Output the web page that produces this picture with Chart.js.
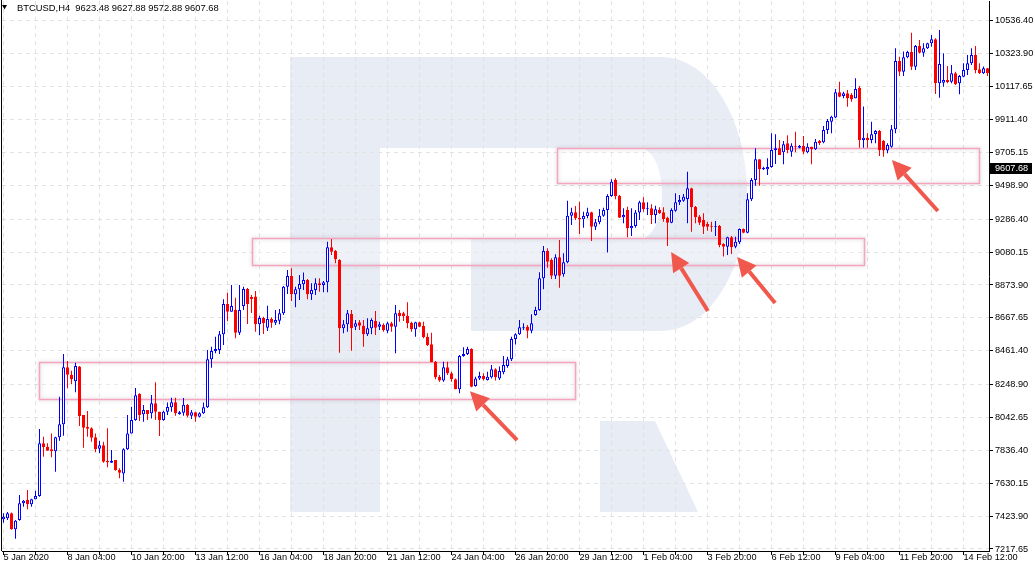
<!DOCTYPE html>
<html lang="en">
<head>
    <meta charset="UTF-8">
    <title>BTCUSD H4</title>
    <script src="https://cdn.jsdelivr.net/npm/chart.js"></script>
    <style>
        html, body {
            margin: 0;
            padding: 0;
            background: #fff;
        }
        canvas {
            display: block;
        }
    </style>
</head>
<body>

<canvas id="btcChart" width="1035" height="572"></canvas>

<script>
    // time axis labels, one every 16 bars (H4)
    const dateLabels = ['5 Jan 2020', '8 Jan 04:00', '10 Jan 20:00', '13 Jan 12:00', '16 Jan 04:00',
        '18 Jan 20:00', '21 Jan 12:00', '24 Jan 04:00', '26 Jan 20:00', '29 Jan 12:00', '1 Feb 04:00',
        '3 Feb 20:00', '6 Feb 12:00', '9 Feb 04:00', '11 Feb 20:00', '14 Feb 12:00'];

    const priceTicks = [7217.65, 7423.90, 7630.15, 7836.40, 8042.65, 8248.90, 8461.40, 8667.65,
        8873.90, 9080.15, 9286.40, 9498.90, 9705.15, 9911.40, 10117.65, 10323.90, 10536.40];

    const opens = [7404,7410,7442,7341,7400,7504,7525,7498,7530,7550,
        7881,7859,7843,7831,7918,8000,8358,8311,8270,8362,
        8058,7985,7975,7918,7847,7868,7772,7759,7776,7713,
        7692,7843,7943,8027,8190,8063,8090,8069,8132,8079,
        8027,8079,8107,8138,8065,8073,8121,8054,8075,8048,
        8069,8107,8408,8460,8466,8565,8755,8706,8717,8575,
        8742,8849,8799,8801,8627,8667,8606,8661,8637,8650,
        8696,8863,8930,8816,8847,8878,8905,8816,8843,8885,
        8874,8891,9110,9089,9031,8602,8627,8692,8612,8640,
        8619,8565,8602,8648,8612,8623,8587,8634,8612,8700,
        8696,8681,8637,8596,8640,8617,8550,8502,8393,8299,
        8274,8358,8320,8282,8220,8429,8441,8472,8240,8288,
        8303,8278,8295,8345,8288,8326,8366,8408,8535,8565,
        8602,8612,8587,8686,8717,8916,9087,9031,8932,9048,
        8941,9016,9309,9330,9296,9286,9307,9330,9240,9267,
        9309,9344,9432,9533,9434,9299,9344,9230,9244,9328,
        9393,9349,9355,9313,9344,9330,9296,9265,9340,9393,
        9403,9413,9481,9365,9303,9282,9257,9244,9240,9244,
        9131,9114,9173,9114,9142,9225,9202,9412,9533,9663,
        9600,9600,9614,9721,9732,9707,9763,9710,9748,9735,
        9746,9707,9742,9725,9777,9769,9846,9898,9924,10083,
        10060,10077,10066,10045,10112,9784,9798,9784,9821,9840,
        9777,9717,9742,9851,10279,10212,10302,10336,10243,10373,
        10331,10359,10390,10415,10139,10143,10160,10149,10202,10139,
        10181,10223,10265,10317,10227,10202,10233];

    const highs = [7442,7450,7446,7400,7556,7525,7588,7533,7583,7971,
        7922,7881,7943,7922,8173,8441,8397,8336,8386,8366,
        8058,8083,7981,7943,7897,7891,7975,7839,7776,7724,
        7849,8058,8110,8228,8194,8121,8090,8184,8264,8079,
        8085,8136,8167,8167,8083,8165,8127,8090,8079,8075,
        8136,8466,8487,8549,8585,8784,8826,8874,8794,8874,
        8863,8855,8811,8836,8681,8675,8744,8671,8717,8723,
        8868,8968,8979,8863,8937,8953,8912,8885,8916,8916,
        8899,9146,9163,9093,9035,8654,8717,8717,8654,8654,
        8654,8665,8665,8711,8644,8634,8644,8644,8749,8717,
        8706,8765,8644,8644,8644,8644,8571,8575,8397,8309,
        8393,8393,8330,8288,8435,8483,8487,8477,8299,8330,
        8320,8330,8372,8351,8362,8429,8424,8550,8571,8654,
        8634,8623,8690,8738,8954,9119,9104,9041,9067,9156,
        9073,9403,9359,9370,9396,9334,9359,9334,9288,9351,
        9359,9443,9537,9543,9439,9355,9365,9355,9344,9403,
        9424,9393,9380,9371,9361,9361,9302,9355,9449,9439,
        9445,9585,9484,9370,9313,9324,9271,9271,9275,9250,
        9136,9177,9181,9177,9229,9229,9449,9545,9732,9663,
        9616,9669,9826,9819,9784,9777,9813,9763,9836,9752,
        9808,9763,9742,9790,9784,9871,9915,9936,10104,10149,
        10087,10097,10077,10171,10122,9993,9826,9898,9846,9846,
        9784,9763,9878,10359,10306,10338,10344,10457,10380,10411,
        10390,10394,10442,10422,10474,10328,10248,10254,10212,10191,
        10265,10317,10359,10373,10265,10244,10236];

    const lows = [7383,7400,7338,7282,7395,7483,7467,7483,7530,7546,
        7797,7834,7793,7703,7897,7928,8226,8251,8201,7989,
        7853,7922,7891,7824,7818,7759,7730,7759,7709,7661,
        7640,7839,7943,8023,8021,8016,8027,8037,8027,7926,
        8023,8058,8079,8054,8060,8054,8044,8033,8016,8042,
        8065,8102,8355,8445,8441,8498,8648,8706,8540,8560,
        8717,8629,8698,8581,8558,8567,8585,8606,8623,8627,
        8686,8818,8774,8734,8780,8843,8784,8780,8811,8832,
        8828,8828,9062,9010,8449,8571,8581,8462,8592,8592,
        8487,8554,8565,8560,8592,8581,8571,8581,8445,8644,
        8648,8602,8581,8550,8609,8540,8491,8389,8282,8267,
        8267,8309,8267,8220,8194,8424,8435,8232,8236,8278,
        8274,8274,8288,8274,8278,8314,8355,8397,8501,8560,
        8592,8540,8571,8681,8713,8847,8982,8912,8912,8857,
        8926,9010,9250,9282,9194,9233,9292,9150,9219,9255,
        9302,9077,9428,9412,9296,9261,9173,9181,9233,9282,
        9334,9313,9257,9261,9319,9271,9119,9261,9334,9376,
        9396,9261,9208,9261,9250,9194,9214,9208,9181,9110,
        9052,9062,9068,9104,9131,9198,9198,9401,9497,9497,
        9595,9564,9610,9633,9690,9631,9700,9679,9707,9732,
        9694,9700,9631,9721,9752,9763,9821,9826,9920,10051,
        10045,9992,10024,10045,9735,9735,9735,9763,9763,9683,
        9679,9700,9735,9826,10185,10185,10296,10222,10222,10327,
        10306,10355,10369,10072,10049,10118,10139,10139,10129,10070,
        10177,10191,10254,10202,10198,10198,10185];

    const closes = [7420,7442,7341,7395,7504,7521,7498,7530,7550,7881,
        7856,7834,7831,7918,8000,8358,8311,8282,8366,8052,
        7979,7972,7916,7845,7868,7765,7762,7772,7713,7696,
        7843,7943,8027,8182,8058,8090,8065,8132,8079,8027,
        8079,8109,8138,8069,8075,8123,8054,8075,8048,8069,
        8107,8408,8460,8472,8565,8755,8706,8742,8575,8717,
        8849,8755,8786,8627,8667,8636,8661,8637,8654,8696,
        8863,8930,8816,8847,8880,8905,8816,8843,8885,8874,
        8891,9110,9083,9035,8602,8627,8696,8602,8634,8619,
        8565,8602,8654,8606,8627,8592,8634,8612,8696,8680,
        8680,8634,8596,8640,8612,8546,8498,8389,8295,8274,
        8358,8320,8282,8220,8429,8441,8472,8236,8288,8303,
        8282,8299,8345,8295,8334,8372,8408,8535,8565,8609,
        8609,8587,8634,8717,8916,9087,9020,8932,9048,8932,
        9016,9309,9330,9292,9286,9307,9330,9240,9267,9309,
        9344,9432,9522,9432,9296,9313,9230,9244,9328,9393,
        9349,9355,9313,9349,9324,9288,9265,9344,9393,9407,
        9428,9481,9361,9299,9265,9240,9240,9240,9244,9125,
        9114,9173,9110,9146,9225,9202,9412,9533,9663,9600,
        9610,9614,9721,9732,9690,9757,9721,9748,9742,9746,
        9710,9742,9725,9773,9763,9846,9903,9930,10083,10055,
        10077,10045,10039,10104,9784,9798,9784,9819,9840,9721,
        9717,9752,9851,10279,10212,10302,10336,10243,10373,10331,
        10359,10390,10415,10139,10260,10160,10147,10202,10133,10185,
        10223,10265,10317,10223,10202,10233,10202];

    // header line and current price tag
    const headerText = 'BTCUSD,H4  9623.48 9627.88 9572.88 9607.68';
    const lastPrice = 9607.68;

    // support zones: [first bar, last bar, top price, bottom price]
    const zones = [
        [8.95, 142.9, 8389, 8157],
        [62.2, 215.1, 9167, 9000],
        [138.3, 243.95, 9732, 9512]
    ];

    // arrows: [tail bar, tail price, tip bar, tip price]
    const arrows = [
        [128.4, 7901, 116.6, 8208],
        [176.1, 8711, 166.9, 9081],
        [192.9, 8761, 183.4, 9050],
        [233.6, 9338, 222.1, 9658]
    ];

    const UP = '#0000ff';
    const DOWN = '#ff0000';
    const FONT = '"Liberation Sans", Arial, sans-serif';

    const bars = opens.map((o, i) => i);
    const isUp = bars.map(i => closes[i] >= opens[i]);

    const decor = {
        id: 'decor',
        beforeDraw(chart) {
            const c = chart.ctx;
            c.save();
            c.fillStyle = '#fff';
            c.fillRect(0, 0, chart.width, chart.height);

            // faint "R" logo in the background
            c.fillStyle = '#e8ecf4';
            c.beginPath();
            c.moveTo(290, 57);
            c.lineTo(662, 57);
            c.ellipse(662, 194, 85, 137, 0, -Math.PI / 2, Math.PI / 2, false);
            c.lineTo(471, 331);
            c.lineTo(471, 239);
            c.lineTo(640, 239);
            c.ellipse(640, 193.5, 22, 45.5, 0, Math.PI / 2, -Math.PI / 2, true);
            c.lineTo(380, 148);
            c.lineTo(380, 512);
            c.lineTo(290, 512);
            c.closePath();
            c.moveTo(600, 421);
            c.lineTo(655, 421);
            c.lineTo(698, 512);
            c.lineTo(600, 512);
            c.closePath();
            c.fill();
            c.restore();
        },
        beforeDatasetsDraw(chart) {
            const c = chart.ctx;
            const xs = chart.scales.x, ys = chart.scales.y;
            zones.forEach(z => {
                const x0 = Math.round(xs.getPixelForValue(z[0]));
                const x1 = Math.round(xs.getPixelForValue(z[1]));
                const y0 = Math.round(ys.getPixelForValue(z[2]));
                const y1 = Math.round(ys.getPixelForValue(z[3]));
                c.save();
                c.fillStyle = 'rgba(255,255,255,0.25)';
                c.fillRect(x0, y0, x1 - x0, y1 - y0);
                c.shadowColor = 'rgba(0,0,0,0.2)';
                c.shadowBlur = 4;
                c.strokeStyle = '#f5a3be';
                c.lineWidth = 1.5;
                c.strokeRect(x0 + 0.5, y0 + 0.5, x1 - x0, y1 - y0);
                c.restore();
            });
        },
        afterDraw(chart) {
            const c = chart.ctx;
            const xs = chart.scales.x, ys = chart.scales.y;
            const area = chart.chartArea;
            c.save();

            // left frame line
            c.fillStyle = '#000';
            c.fillRect(area.left - 1, 0, 1, area.bottom);

            // arrows
            c.strokeStyle = '#f0584e';
            c.fillStyle = '#f0584e';
            arrows.forEach(a => {
                const tx = xs.getPixelForValue(a[0]), ty = ys.getPixelForValue(a[1]);
                const hx = xs.getPixelForValue(a[2]), hy = ys.getPixelForValue(a[3]);
                const ang = Math.atan2(hy - ty, hx - tx);
                const head = 19, half = 9.5;
                const bx = hx - Math.cos(ang) * head, by = hy - Math.sin(ang) * head;
                c.lineWidth = 4;
                c.beginPath();
                c.moveTo(tx, ty);
                c.lineTo(bx, by);
                c.stroke();
                c.beginPath();
                c.moveTo(hx, hy);
                c.lineTo(bx + Math.sin(ang) * half, by - Math.cos(ang) * half);
                c.lineTo(bx - Math.sin(ang) * half, by + Math.cos(ang) * half);
                c.closePath();
                c.fill();
            });

            // header
            c.fillStyle = '#000';
            c.beginPath();
            c.moveTo(2, 5);
            c.lineTo(7, 5);
            c.lineTo(4.5, 9.5);
            c.closePath();
            c.fill();
            c.font = '9.4px ' + FONT;
            c.textBaseline = 'alphabetic';
            c.fillText(headerText, 17, 11);

            // current price tag
            const py = Math.round(ys.getPixelForValue(lastPrice));
            c.fillStyle = '#000';
            c.fillRect(area.right + 1, py - 5, 42, 11);
            c.fillStyle = '#fff';
            c.textBaseline = 'middle';
            c.font = '9.2px ' + FONT;
            c.fillText(lastPrice.toFixed(2), area.right + 6, py + 0.5);
            c.restore();
        }
    };

    const gridStyle = {
        color: '#e2e2e2',
        tickColor: '#000',
        tickLength: 4,
        offset: false
    };
    const borderStyle = {
        display: true,
        color: '#000',
        width: 1,
        dash: [4, 4]
    };

    Chart.defaults.font.family = FONT;
    Chart.defaults.font.size = 9.2;
    Chart.defaults.color = '#000';

    new Chart(document.getElementById('btcChart'), {
        type: 'bar',
        data: {
            datasets: [{
                label: 'wicks',
                order: 1,
                grouped: false,
                data: bars.map(i => ({ x: i, y: [lows[i], highs[i]] })),
                backgroundColor: bars.map(i => isUp[i] ? UP : DOWN),
                borderWidth: 0,
                barThickness: 1,
                inflateAmount: 0
            }, {
                label: 'bodies',
                order: 0,
                grouped: false,
                data: bars.map(i => ({ x: i, y: [Math.min(opens[i], closes[i]), Math.max(opens[i], closes[i])] })),
                backgroundColor: bars.map(i => isUp[i] ? '#fff' : DOWN),
                borderColor: bars.map(i => isUp[i] ? UP : DOWN),
                borderWidth: 1,
                borderSkipped: false,
                barThickness: 3,
                inflateAmount: 0
            }]
        },
        options: {
            responsive: false,
            animation: false,
            devicePixelRatio: 1,
            layout: { padding: { left: 2, top: 1, right: 0, bottom: 0 } },
            plugins: {
                legend: { display: false },
                tooltip: { enabled: false }
            },
            scales: {
                x: {
                    type: 'linear',
                    bounds: 'data',
                    min: -0.375,
                    max: 246.375,
                    offset: false,
                    grid: gridStyle,
                    border: borderStyle,
                    afterBuildTicks: s => {
                        s.ticks = [];
                        for (let v = 0; v <= 240; v += 8) s.ticks.push({ value: v });
                    },
                    afterFit: s => {
                        s.height = 21;
                        s.paddingLeft = 0;
                        s.paddingRight = 0;
                    },
                    ticks: {
                        autoSkip: false,
                        maxRotation: 0,
                        align: 'start',
                        padding: -3,
                        callback: v => v % 16 === 0 ? dateLabels[v / 16] : ''
                    }
                },
                y: {
                    type: 'linear',
                    position: 'right',
                    bounds: 'data',
                    beginAtZero: false,
                    min: 7205.1,
                    max: 10655.6,
                    grid: gridStyle,
                    border: borderStyle,
                    afterBuildTicks: s => {
                        s.ticks = priceTicks.map(v => ({ value: v }));
                    },
                    afterFit: s => {
                        s.width = 46;
                        s.paddingTop = 0;
                        s.paddingBottom = 0;
                    },
                    ticks: {
                        padding: 2,
                        callback: v => v.toFixed(2)
                    }
                }
            }
        },
        plugins: [decor]
    });
</script>

</body>
</html>
